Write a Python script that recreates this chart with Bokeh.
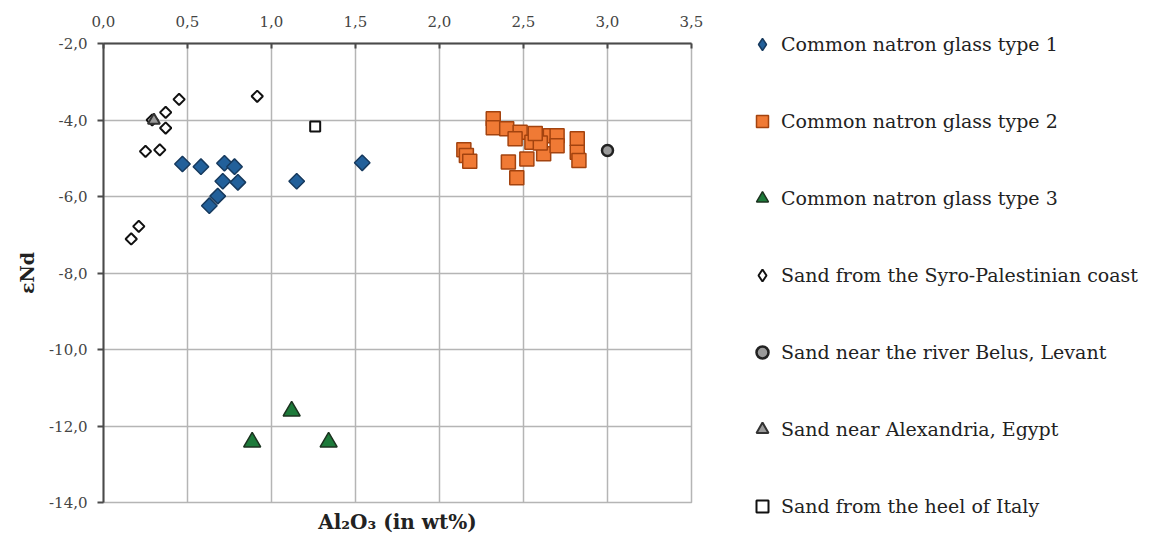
from bokeh.plotting import figure
from bokeh.models import Range1d, LinearAxis, Legend, LegendItem, FixedTicker, CustomJSTickFormatter
from bokeh.embed import file_html
from bokeh.resources import INLINE
import math

# ---------------- data ----------------
x_ticks = [0.0, 0.5, 1.0, 1.5, 2.0, 2.5, 3.0, 3.5]
y_ticks = [-14.0, -12.0, -10.0, -8.0, -6.0, -4.0, -2.0]

type1_x = [0.47, 0.58, 0.72, 0.78, 0.71, 0.80, 0.68, 0.63, 1.15, 1.54]
type1_y = [-5.15, -5.22, -5.13, -5.22, -5.60, -5.63, -5.99, -6.24, -5.60, -5.12]

type2_x = [2.32, 2.32, 2.40, 2.48, 2.45, 2.55, 2.66, 2.70, 2.62, 2.52, 2.41, 2.46,
           2.145, 2.16, 2.18, 2.82, 2.82, 2.83, 2.70, 2.60, 2.57]
type2_y = [-3.97, -4.20, -4.23, -4.32, -4.49, -4.58, -4.41, -4.41, -4.88, -5.02, -5.10, -5.51,
           -4.78, -4.93, -5.08, -4.49, -4.84, -5.06, -4.67, -4.60, -4.35]

type3_x = [1.12, 0.885, 1.34]
type3_y = [-11.61, -12.42, -12.42]

syro_x = [0.45, 0.37, 0.37, 0.29, 0.25, 0.335, 0.915, 0.21, 0.165]
syro_y = [-3.46, -3.80, -4.21, -4.00, -4.82, -4.78, -3.38, -6.78, -7.11]

belus_x = [3.00]
belus_y = [-4.80]

alex_x = [0.30]
alex_y = [-4.01]

italy_x = [1.26]
italy_y = [-4.17]

labels = ["Common natron glass type 1", "Common natron glass type 2", "Common natron glass type 3",
          "Sand from the Syro-Palestinian coast", "Sand near the river Belus, Levant",
          "Sand near Alexandria, Egypt", "Sand from the heel of Italy"]

# ---------------- figure ----------------
SERIF = "DejaVu Serif"
p = figure(frame_width=588, frame_height=459,
           x_range=Range1d(0, 3.5), y_range=Range1d(-14, -2),
           x_axis_location="above", output_backend="svg", toolbar_location=None,
           min_border_left=103, min_border_top=43, min_border_right=459, min_border_bottom=42)
p.background_fill_color = "white"
p.border_fill_color = "white"
p.outline_line_color = "#b5b5b5"
p.outline_line_width = 1.5

fmt = CustomJSTickFormatter(code="return tick.toFixed(1).replace('.', ',');")

xa = p.xaxis[0]
xa.ticker = FixedTicker(ticks=x_ticks)
xa.formatter = fmt
xa.axis_line_color = "#4a4a4a"
xa.axis_line_width = 2
xa.major_tick_line_color = "#4a4a4a"
xa.major_tick_line_width = 2
xa.major_tick_in = 5
xa.major_tick_out = 0
xa.minor_tick_line_color = None
xa.major_label_standoff = 17
xa.major_label_text_font = SERIF
xa.major_label_text_font_size = "15px"
xa.major_label_text_color = "#444444"

ya = p.yaxis[0]
ya.ticker = FixedTicker(ticks=y_ticks)
ya.formatter = fmt
ya.axis_line_color = "#4a4a4a"
ya.axis_line_width = 2
ya.major_tick_line_color = "#4a4a4a"
ya.major_tick_line_width = 2
ya.major_tick_in = 0
ya.major_tick_out = 6
ya.minor_tick_line_color = None
ya.major_label_standoff = 10
ya.major_label_text_font = SERIF
ya.major_label_text_font_size = "15px"
ya.major_label_text_color = "#444444"
ya.axis_label = "εNd"
ya.axis_label_text_font = SERIF
ya.axis_label_text_font_style = "bold"
ya.axis_label_text_font_size = "19px"
ya.axis_label_text_color = "#222222"
ya.axis_label_standoff = 8

bottom = LinearAxis(ticker=FixedTicker(ticks=[]), axis_line_color=None,
                    major_tick_line_color=None, minor_tick_line_color=None,
                    axis_label="Al₂O₃ (in wt%)", axis_label_text_font=SERIF,
                    axis_label_text_font_style="bold", axis_label_text_font_size="20px",
                    axis_label_text_color="#222222", axis_label_standoff=7)
p.add_layout(bottom, "below")

p.xgrid.ticker = FixedTicker(ticks=x_ticks)
p.ygrid.ticker = FixedTicker(ticks=y_ticks)
for g in (p.xgrid[0], p.ygrid[0]):
    g.grid_line_color = "#b5b5b5"
    g.grid_line_width = 1.5

ang = math.pi / 4
s1 = dict(fill_color="#22609a", line_color="#173a5e", line_width=1.5)
s2 = dict(fill_color="#f07a35", line_color="#a3430f", line_width=1.5)
s3 = dict(fill_color="#1d7a3a", line_color="#1c3320", line_width=1.5)
s4 = dict(fill_color="white", line_color="#111111", line_width=2)
s5 = dict(fill_color="#9a9a9a", line_color="#222222", line_width=2.5)
s6 = dict(fill_color="#9a9a9a", line_color="#333333", line_width=2)
s7 = dict(fill_color="white", line_color="#111111", line_width=2)

r1 = p.scatter(type1_x, type1_y, marker="square", angle=ang, size=11, **s1)
r2 = p.scatter(type2_x, type2_y, marker="square", size=14, **s2)
r3 = p.scatter(type3_x, type3_y, marker="triangle", size=17, **s3)
r4 = p.scatter(syro_x, syro_y, marker="square", angle=ang, size=8, **s4)
r5 = p.scatter(belus_x, belus_y, marker="circle", size=11, **s5)
r6 = p.scatter(alex_x, alex_y, marker="triangle", size=12, **s6)
r7 = p.scatter(italy_x, italy_y, marker="square", size=10, **s7)

# hidden twins used only for the legend swatches (legend does not rotate markers)
l1 = p.scatter(type1_x, type1_y, marker="diamond", size=12, visible=False, **s1)
l4 = p.scatter(syro_x, syro_y, marker="diamond", size=12, visible=False, **s4)

renderers = [l1, r2, r3, l4, r5, r6, r7]
legend = Legend(items=[LegendItem(label=l, renderers=[r], index=0) for l, r in zip(labels, renderers)],
                location=(56, -19), orientation="vertical",
                glyph_width=30, glyph_height=30, label_height=30,
                label_standoff=4, spacing=47, padding=0, margin=0,
                border_line_color=None, background_fill_alpha=0,
                label_text_font=SERIF, label_text_font_size="19px",
                label_text_color="#222222", label_text_baseline="middle")
p.add_layout(legend, "right")

open("out.html", "w").write(file_html(p, INLINE))
